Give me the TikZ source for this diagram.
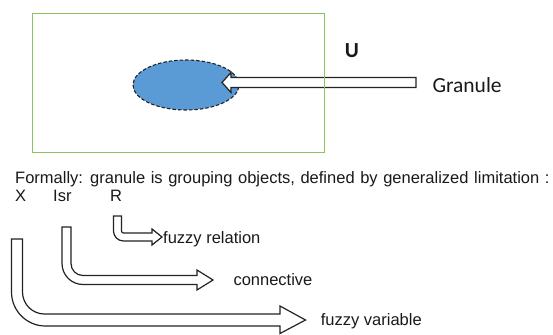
\documentclass[tikz,border=0pt]{standalone}
\usepackage{fontspec}
\setmainfont{Liberation Sans}
\newfontfamily\calfont{Carlito}
\usetikzlibrary{shapes.geometric}
\definecolor{boxgreen}{RGB}{140,196,100}
\definecolor{granblue}{RGB}{91,155,213}
\definecolor{outline}{RGB}{35,35,35}
\definecolor{txt}{RGB}{25,25,25}
\begin{document}
\begin{tikzpicture}[x=1pt,y=-1pt,
  lbl/.style={font=\fontsize{16.5}{18}\selectfont, text=txt, inner sep=0pt, anchor=base west},
  cal/.style={font=\calfont\fontsize{21.5}{24}\selectfont, text=txt, inner sep=0pt, anchor=base west},
  blockarrow/.style={draw=outline, line width=1.2pt, fill=white, line join=miter}]
\useasboundingbox (0,0) rectangle (553,334);
% granule ellipse
\node[ellipse, draw=outline, dash pattern=on 3.5pt off 2pt, line width=1.1pt,
      fill=granblue, minimum width=106pt, minimum height=50pt, inner sep=0pt] (gran) at (186,85) {};
% straight block arrow pointing to the granule
\coordinate (tipG) at (222,82.5);
\draw[blockarrow] (tipG) -- (231,72.5) -- (231,77.5) -- (416,77.5) -- (416,87.5)
  -- (231,87.5) -- (231,92.5) -- cycle;
% universe box
\draw[boxgreen, line width=1.5pt] (32.7,13.3) rectangle (324.7,152.3);
\node[cal, font=\calfont\bfseries\fontsize{21.5}{24}\selectfont] (u) at (344.7,57.3) {U};
\node[cal] (granlbl) at (432.3,92.7) {Granule};
% formal text
\node[lbl] (formal) at (15,183.5) {\spaceskip=5.6pt Formally: granule is grouping objects, defined by generalized limitation :};
\node[lbl] (x) at (15,201.7) {X};
\node[lbl] (isr) at (53,201.7) {Isr};
\node[lbl] (r) at (110,201.7) {R};
% bent arrows
\draw[blockarrow] (113.5,216) -- (121.5,216) -- (121.5,231)
  .. controls (121.5,232.1) and (122.4,233) .. (123.5,233) -- (152,233) -- (152,229)
  -- (162,237) -- (152,245) -- (152,241) -- (123.5,241)
  .. controls (117.98,241) and (113.5,236.52) .. (113.5,231) -- cycle;
\draw[blockarrow] (62,227) -- (71,227) -- (71,263.5)
  .. controls (71,270.12) and (76.38,275.5) .. (83,275.5) -- (197,275.5) -- (197,270)
  -- (213,280) -- (197,290) -- (197,284.5) -- (83,284.5)
  .. controls (71.41,284.5) and (62,275.09) .. (62,263.5) -- cycle;
\draw[blockarrow] (11.5,239) -- (22.5,239) -- (22.5,292)
  .. controls (22.5,304.14) and (32.36,314) .. (44.5,314) -- (280,314) -- (280,306)
  -- (305.5,320) -- (280,333.5) -- (280,326) -- (45.5,326)
  .. controls (26.73,326) and (11.5,310.77) .. (11.5,292) -- cycle;
\node[lbl] (frel) at (163,243) {fuzzy relation};
\node[lbl] (conn) at (233.3,285) {connective};
\node[lbl] (fvar) at (320.7,325.7) {fuzzy variable};
\end{tikzpicture}
\end{document}
